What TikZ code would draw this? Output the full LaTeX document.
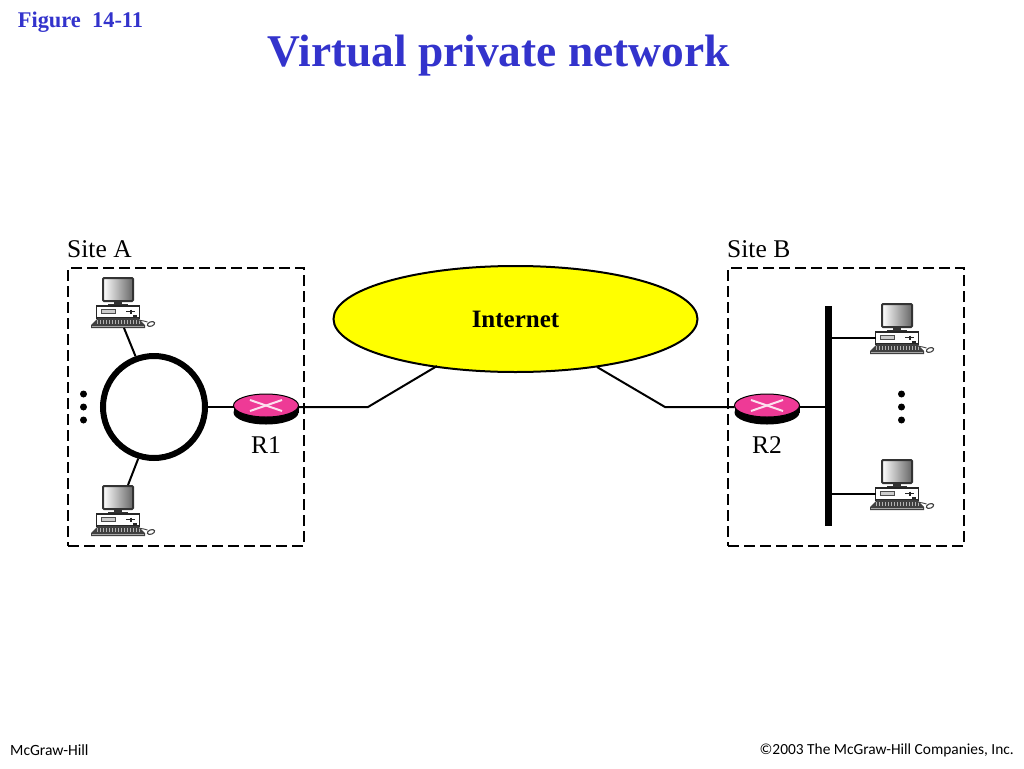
\documentclass[tikz,border=0pt]{standalone}
\usepackage{fontspec}
\setmainfont{Liberation Serif}
\newfontfamily\footfont{Carlito}
\usetikzlibrary{
  positioning,
  shapes.geometric,
  calc
}
\usepackage{xcolor}
\definecolor{titleblue}{HTML}{3333CC}
\definecolor{routerpink}{HTML}{EE3A96}
\definecolor{cloudyellow}{HTML}{FFFF00}

\tikzset{
  computer/.pic={
    % screen
    \shade[left color=white, right color=black!60, draw=black!80, line width=2pt, rounded corners=1pt]
      (-15,-28) rectangle (15,-5);
    \fill[black!80] (-4,-5) rectangle (4,-2);
    \fill[black!80] (-10,-2.5) rectangle (10,0);
    % case
    \draw[black!85, fill=white, line width=1.1pt] (-21.5,0) rectangle (21.5,12);
    \draw[black!70, fill=black!20, line width=0.8pt] (-17,3.5) rectangle (-3,7.5);
    \draw[black!85, line width=0.9pt] (8,5.5) -- (17,5.5);
    \draw[black!85, line width=1.4pt] (13,3.5) -- (13,7.5);
    \fill[black!85] (15,9) rectangle (19,11);
    % keyboard
    \fill[black!75] (-20,12) -- (20,12) -- (27,19) -- (27,22) -- (-27,22) -- (-27,19) -- cycle;
    \foreach \keyx in {-21,-18,...,21}
      \draw[white!70!black, line width=0.5pt] (\keyx,14) -- (\keyx,18);
    \draw[black!35, line width=0.6pt] (-26,20) -- (26,20);
    % mouse
    \draw[black!75, line width=0.9pt] (17,12) .. controls (20,15) and (24,14) .. (29.5,16);
    \draw[black!75, fill=white, line width=1.1pt, rotate around={20:(33,18)}] (33,18) ellipse (3.8 and 2.2);
    \coordinate (-bottom) at (6,22);
    \coordinate (-left) at (-21.5,6);
    \coordinate (-top) at (10,-29);
  }
}

\begin{document}
\begin{tikzpicture}[
  x=1pt, y=-1pt,
  sitebox/.style={draw, dashed, dash pattern=on 11pt off 5pt, line width=1.5pt},
  wire/.style={line width=2pt},
  dotmark/.style={circle, fill=black, inner sep=0pt, minimum size=7pt},
  lbl/.style={font=\fontsize{25.5}{27}\selectfont, inner sep=0pt},
]
  \useasboundingbox[fill=white] (0,0) rectangle (1024,768);

  % Headings
  \node[font=\fontsize{22.4}{24}\selectfont\bfseries, titleblue, inner sep=0pt] (figlabel) at (80.5,22) {Figure\ \ 14-11};
  \node[font=\fontsize{45.4}{50}\selectfont\bfseries, titleblue, inner sep=0pt] (title) at (498.5,56) {Virtual private network};

  % Sites
  \node[sitebox, minimum width=236pt, minimum height=278pt, inner sep=0pt] (siteA) at (186,407) {};
  \node[sitebox, minimum width=236pt, minimum height=278pt, inner sep=0pt] (siteB) at (846,407) {};
  \node[lbl, anchor=south west] (siteAlabel) at (67,258) {Site A};
  \node[lbl, anchor=south west] (siteBlabel) at (727,258) {Site B};

  % Internet
  \node[draw, ellipse, fill=cloudyellow, line width=2pt, minimum width=364pt, minimum height=106pt, inner sep=0pt,
        font=\fontsize{25}{28}\selectfont\bfseries] (internet) at (515.5,319) {Internet};

  % Ring and bus
  \node[draw, circle, line width=6pt, minimum size=102pt, inner sep=0pt] (ring) at (154,407) {};
  \node[fill=black, minimum width=6.5pt, minimum height=220pt, inner sep=0pt] (bus) at (828.5,416) {};

  % Routers
  \foreach \rname/\rx/\rtext in {R1/266/R1, R2/767/R2} {
    \node[ellipse, fill=black, minimum width=65pt, minimum height=24pt, inner sep=0pt] (\rname base) at (\rx,412.5) {};
    \fill (\rx-32.5,405.5) rectangle (\rx+32.5,412.5);
    \node[draw, ellipse, fill=routerpink, line width=1pt, minimum width=65pt, minimum height=23pt, inner sep=0pt] (\rname) at (\rx,405.5) {};
    \draw[white!85!routerpink, line width=2pt] (\rx-16,400) -- (\rx+16,411);
    \draw[white!85!routerpink, line width=2pt] (\rx-16,411) -- (\rx+16,400);
    \node[lbl, below=31pt of \rname.center] (\rname label) {\rtext};
  }

  % Computers
  \pic (pcAtop) at (118,306) {computer};
  \pic (pcAbot) at (118,514) {computer};
  \pic (pcBtop) at (897,332) {computer};
  \pic (pcBbot) at (897,488) {computer};

  % Dots
  \foreach \dy [count=\di] in {394,407,420} {
    \node[dotmark] (dotsA\di) at (83.5,\dy) {};
    \node[dotmark] (dotsB\di) at (901.5,\dy) {};
  }

  % Links
  \coordinate (bendA) at (368,407);
  \coordinate (bendB) at (665,407);
  \coordinate (cloudA) at (437,366);
  \coordinate (cloudB) at (597,367);
  \coordinate (r1west) at (233.5,407);
  \coordinate (r1east) at (298.5,407);
  \coordinate (r2west) at (734.5,407);
  \coordinate (r2east) at (799.5,407);
  \draw[wire] (r1east) -- (bendA) -- (cloudA);
  \draw[wire] (r2west) -- (bendB) -- (cloudB);
  \draw[wire] (ring) ++(51,0) -- (r1west);
  \draw[wire] (r2east) -- (bus.west |- r2east);
  \draw[wire] (pcAtop-bottom) -- (ring.110);
  \draw[wire] (pcAbot-top) -- (ring.253);
  \draw[wire] (pcBtop-left) -- (bus.east |- pcBtop-left);
  \draw[wire] (pcBbot-left) -- (bus.east |- pcBbot-left);

  % Footer
  \node[font=\footfont\fontsize{15.6}{16}\selectfont, anchor=west, inner sep=0pt] (publisher) at (10,750) {McGraw-Hill};
  \node[font=\footfont\fontsize{15.4}{16}\selectfont, anchor=east, inner sep=0pt] (copyright) at (1014,750) {©2003 The McGraw-Hill Companies, Inc.};
\end{tikzpicture}
\end{document}
